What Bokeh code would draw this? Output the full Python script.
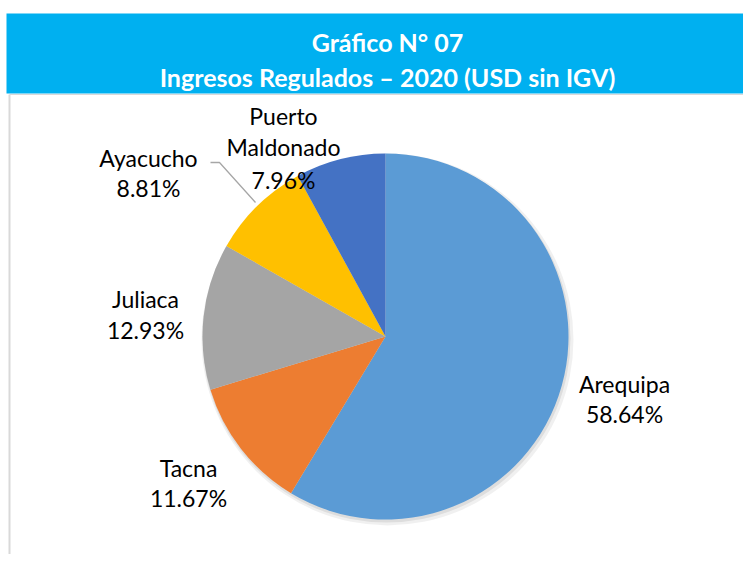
import numpy as np
from bokeh.plotting import figure
from bokeh.models import ColumnDataSource, Range1d
from bokeh.core.properties import value
from bokeh.embed import file_html
from bokeh.resources import INLINE

# ---- data ----
categories = ["Arequipa", "Tacna", "Juliaca", "Ayacucho", "Puerto Maldonado"]
shares = [58.64, 11.67, 12.93, 8.81, 7.96]
colors = ["#5B9BD5", "#ED7D31", "#A5A5A5", "#FFC000", "#4472C4"]
label_lines = [["Arequipa", "58.64%"], ["Tacna", "11.67%"], ["Juliaca", "12.93%"],
               ["Ayacucho", "8.81%"], ["Puerto", "Maldonado", "7.96%"]]
title1 = "Gráfico N° 07"
title2 = "Ingresos Regulados – 2020 (USD sin IGV)"

# ---- layout (page pixels -> data) ----
W, H = 743, 554
def X(px): return px
def Y(py): return H - py

p = figure(width=W, height=H, output_backend="svg", toolbar_location=None,
           x_range=Range1d(0, W), y_range=Range1d(0, H), min_border=0)
p.axis.visible = False
p.grid.visible = False
p.outline_line_color = None
p.background_fill_color = "white"
p.border_fill_color = "white"

# header band
p.quad(left=[X(6)], right=[W], bottom=[Y(93)], top=[Y(13)], color="#00B0F0", line_color=None)
p.text(x=[X(387)], y=[Y(41)], text=[title1], text_color="white", text_font=value("Lato"),
       text_font_style="bold", text_font_size="25px", text_align="center", text_baseline="middle")
p.text(x=[X(387)], y=[Y(76)], text=[title2], text_color="white", text_font=value("Lato"),
       text_font_style="bold", text_font_size="25px", text_align="center", text_baseline="middle")

# frame lines
p.line(x=[X(9), X(9)], y=[Y(94), 0], line_color="#D9D9D9", line_width=2)
p.line(x=[X(9), W], y=[Y(94), Y(94)], line_color="#D9D9D9", line_width=1)

# pie
cx, cy, r = X(385), Y(336), 183
frac = np.array(shares) / sum(shares)
cum = np.concatenate([[0], np.cumsum(frac)])
start = np.pi / 2 - cum[:-1] * 2 * np.pi
end = np.pi / 2 - cum[1:] * 2 * np.pi
src = ColumnDataSource(dict(cat=categories, start=start, end=end, color=colors))
# soft shadow
p.circle(x=[cx + 2], y=[cy - 3], radius=r + 3, fill_color="#000000", fill_alpha=0.06, line_color=None)
p.circle(x=[cx + 1], y=[cy - 2], radius=r + 1, fill_color="#000000", fill_alpha=0.08, line_color=None)
p.wedge(x=cx, y=cy, radius=r, start_angle="start", end_angle="end", direction="clock",
        fill_color="color", line_color=None, source=src)

# leader line for Ayacucho
p.line(x=[X(210), X(219), X(255)], y=[Y(162), Y(162), Y(202)], line_color="#A6A6A6", line_width=1.3)

# labels
label_pos = [(624, [383, 413]), (188, [467, 497]), (145, [298, 329]),
             (148, [157, 187]), (283, [115, 146, 179])]
for lines, (lx, ys) in zip(label_lines, label_pos):
    p.text(x=[X(lx)] * len(lines), y=[Y(v) for v in ys], text=lines, text_color="#000000",
           text_font=value("Lato"), text_font_size="23px", text_align="center",
           text_baseline="middle")

open("out.html", "w").write(file_html(p, INLINE))
